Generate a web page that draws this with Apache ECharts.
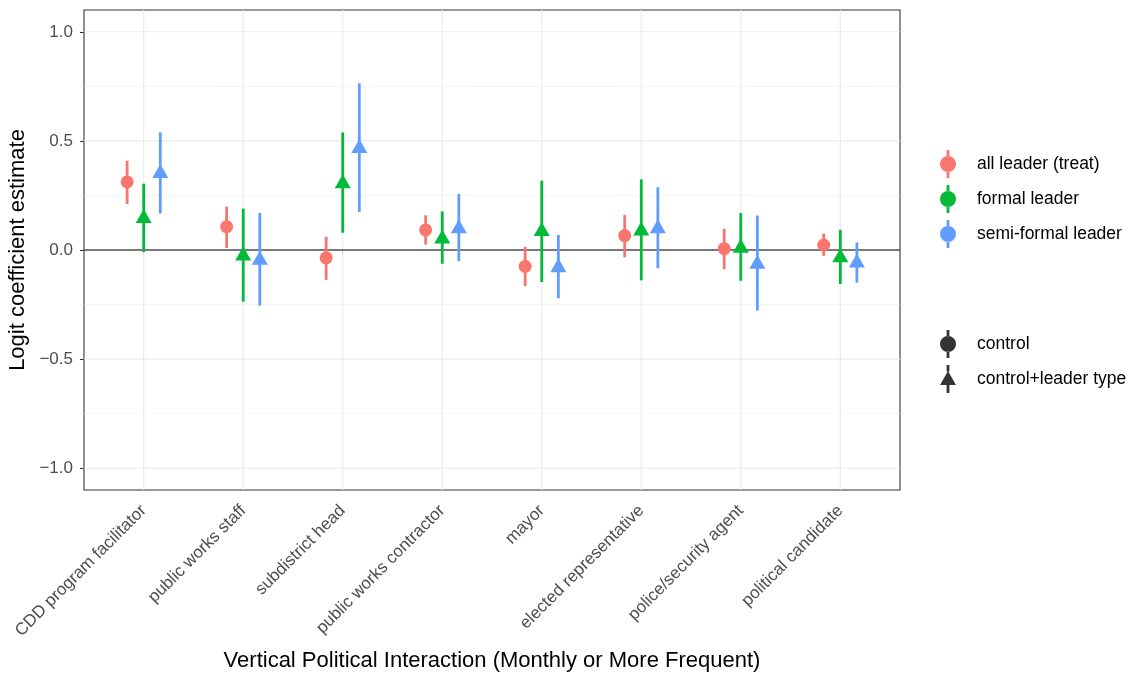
<!DOCTYPE html>
<html>
<head>
<meta charset="utf-8">
<script src="https://cdn.jsdelivr.net/npm/echarts@6/dist/echarts.min.js"></script>
<style>
  html, body { margin: 0; padding: 0; background: #fff; }
  #chart { width: 1137px; height: 673px; }
</style>
</head>
<body>
<div id="chart"></div>
<script>
// categories on the x axis
const cats = [
  "CDD program facilitator",
  "public works staff",
  "subdistrict head",
  "public works contractor",
  "mayor",
  "elected representative",
  "police/security agent",
  "political candidate",
];

// all leader (treat) - control model
const allEst = [0.312, 0.107, -0.036, 0.092, -0.075, 0.066, 0.006, 0.023];
const allLo = [0.211, 0.009, -0.137, 0.025, -0.165, -0.033, -0.088, -0.027];
const allHi = [0.409, 0.199, 0.061, 0.159, 0.014, 0.160, 0.097, 0.075];

// formal leader - control+leader type
const formalEst = [0.145, -0.027, 0.304, 0.051, 0.086, 0.088, 0.009, -0.035];
const formalLo = [-0.009, -0.237, 0.079, -0.063, -0.147, -0.139, -0.141, -0.156];
const formalHi = [0.304, 0.190, 0.539, 0.177, 0.318, 0.324, 0.169, 0.093];

// semi-formal leader - control+leader type
const semiEst = [0.351, -0.046, 0.466, 0.098, -0.080, 0.098, -0.064, -0.059];
const semiLo = [0.167, -0.255, 0.175, -0.051, -0.221, -0.084, -0.278, -0.149];
const semiHi = [0.539, 0.170, 0.764, 0.257, 0.069, 0.288, 0.158, 0.035];

const yTicks = [-1, -0.5, 0, 0.5, 1];
const yMinor = [-0.75, -0.25, 0.25, 0.75];
const xTicks = [1, 2, 3, 4, 5, 6, 7, 8];

const FONT = "'Liberation Sans', Arial, sans-serif";
const dodge = 1 / 6;

const groups = [
  { name: "all leader (treat)", color: "#F8766D", est: allEst, lo: allLo, hi: allHi, off: -dodge, shape: "circle" },
  { name: "formal leader", color: "#00BA38", est: formalEst, lo: formalLo, hi: formalHi, off: 0, shape: "triangle" },
  { name: "semi-formal leader", color: "#619CFF", est: semiEst, lo: semiLo, hi: semiHi, off: dodge, shape: "triangle" },
];

// legend keys: point with a vertical range line through it
const circleIcon = "path://M6.6,0h2.8v6.3h-2.8z M6.6,21.7h2.8v6.3h-2.8z M0,14a8,8 0 1,0 16,0a8,8 0 1,0 -16,0z";
const triIcon = "path://M6.6,0h2.8v6.5h-2.8z M6.6,20h2.8v8h-2.8z M0,20L8,6L16,20z";

// grid lines drawn as custom series
function hLine(width, color) {
  return function (params, api) {
    const cs = params.coordSys;
    const p = api.coord([1, api.value(0)]);
    return {
      type: "line",
      shape: { x1: cs.x, y1: p[1], x2: cs.x + cs.width, y2: p[1] },
      style: { stroke: color, lineWidth: width },
    };
  };
}
function vLine(params, api) {
  const cs = params.coordSys;
  const p = api.coord([api.value(0), 0]);
  return {
    type: "line",
    shape: { x1: p[0], y1: cs.y, x2: p[0], y2: cs.y + cs.height },
    style: { stroke: "#EBEBEB", lineWidth: 1.1 },
  };
}

const series = [
  { type: "custom", name: "minor", data: yMinor.map((v) => [v]), renderItem: hLine(0.55, "#EBEBEB"), silent: true, z: 1, encode: { y: 0 } },
  { type: "custom", name: "major", data: yTicks.map((v) => [v]), renderItem: hLine(1.1, "#EBEBEB"), silent: true, z: 1, encode: { y: 0 } },
  { type: "custom", name: "vmajor", data: xTicks.map((v) => [v]), renderItem: vLine, silent: true, z: 1, encode: { x: 0 } },
  { type: "custom", name: "zero", data: [[0]], renderItem: hLine(1.1, "#000000"), silent: true, z: 2, encode: { y: 0 } },
];

groups.forEach((g) => {
  series.push({
    type: "custom",
    name: g.name + " bar",
    z: 3,
    silent: true,
    data: g.est.map((v, i) => [i + 1 + g.off, g.lo[i], g.hi[i]]),
    encode: { x: 0, y: [1, 2] },
    renderItem: function (params, api) {
      const a = api.coord([api.value(0), api.value(1)]);
      const b = api.coord([api.value(0), api.value(2)]);
      return {
        type: "line",
        shape: { x1: a[0], y1: a[1], x2: b[0], y2: b[1] },
        style: { stroke: g.color, lineWidth: 2.8 },
      };
    },
  });
  series.push({
    type: "scatter",
    name: g.name,
    z: 4,
    data: g.est.map((v, i) => [i + 1 + g.off, v]),
    symbol: g.shape,
    symbolSize: g.shape === "circle" ? 13 : [16, 14],
    symbolOffset: g.shape === "circle" ? [0, 0] : [0, -2.3],
    itemStyle: { color: g.color, opacity: 1 },
  });
});

// dummy series for the shape legend
series.push({ type: "scatter", name: "control", data: [], itemStyle: { color: "#000" } });
series.push({ type: "scatter", name: "control+leader type", data: [], itemStyle: { color: "#000" } });

const legendText = { fontFamily: FONT, fontSize: 17.5, color: "#000", padding: [0, 0, 0, 3] };

const chart = echarts.init(document.getElementById("chart"));
chart.setOption({
  animation: false,
  backgroundColor: "#fff",
  textStyle: { fontFamily: FONT },
  grid: {
    left: 84,
    right: 237,
    top: 10,
    bottom: 183,
    containLabel: false,
    outerBoundsMode: "none",
    show: true,
    borderColor: "#333333",
    borderWidth: 1.1,
    backgroundColor: "#fff",
  },
  legend: [
    {
      orient: "vertical",
      left: 935,
      top: 145,
      itemWidth: 42,
      itemHeight: 28,
      itemGap: 7,
      data: groups.map((g) => ({ name: g.name, icon: circleIcon })),
      textStyle: legendText,
      selectedMode: false,
    },
    {
      orient: "vertical",
      left: 935,
      top: 325,
      itemWidth: 42,
      itemHeight: 28,
      itemGap: 7,
      data: [
        { name: "control", icon: circleIcon, itemStyle: { color: "#000" } },
        { name: "control+leader type", icon: triIcon, itemStyle: { color: "#000" } },
      ],
      textStyle: legendText,
      selectedMode: false,
    },
  ],
  xAxis: {
    type: "value",
    min: 0.4,
    max: 8.6,
    name: "Vertical Political Interaction (Monthly or More Frequent)",
    nameLocation: "middle",
    nameGap: 160,
    nameTextStyle: { fontFamily: FONT, fontSize: 22, color: "#000" },
    axisLine: { show: false },
    splitLine: { show: false },
    axisTick: { show: true, length: 4, customValues: xTicks, lineStyle: { color: "#333333", width: 1 } },
    axisLabel: {
      customValues: xTicks,
      rotate: 45,
      margin: 18,
      fontFamily: FONT,
      fontSize: 17,
      color: "#4D4D4D",
      formatter: (v) => cats[Math.round(v) - 1],
    },
  },
  yAxis: {
    type: "value",
    min: -1.1,
    max: 1.1,
    name: "Logit coefficient estimate",
    nameLocation: "middle",
    nameGap: 52,
    nameRotate: 90,
    nameTextStyle: { fontFamily: FONT, fontSize: 22, color: "#000" },
    axisLine: { show: false },
    splitLine: { show: false },
    axisTick: { show: true, length: 4, customValues: yTicks, lineStyle: { color: "#333333", width: 1 } },
    axisLabel: {
      customValues: yTicks,
      margin: 11,
      fontFamily: FONT,
      fontSize: 17,
      color: "#4D4D4D",
      formatter: (v) => (v < 0 ? "\u2212" + Math.abs(v).toFixed(1) : v.toFixed(1)),
    },
  },
  series: series,
});
</script>
</body>
</html>
